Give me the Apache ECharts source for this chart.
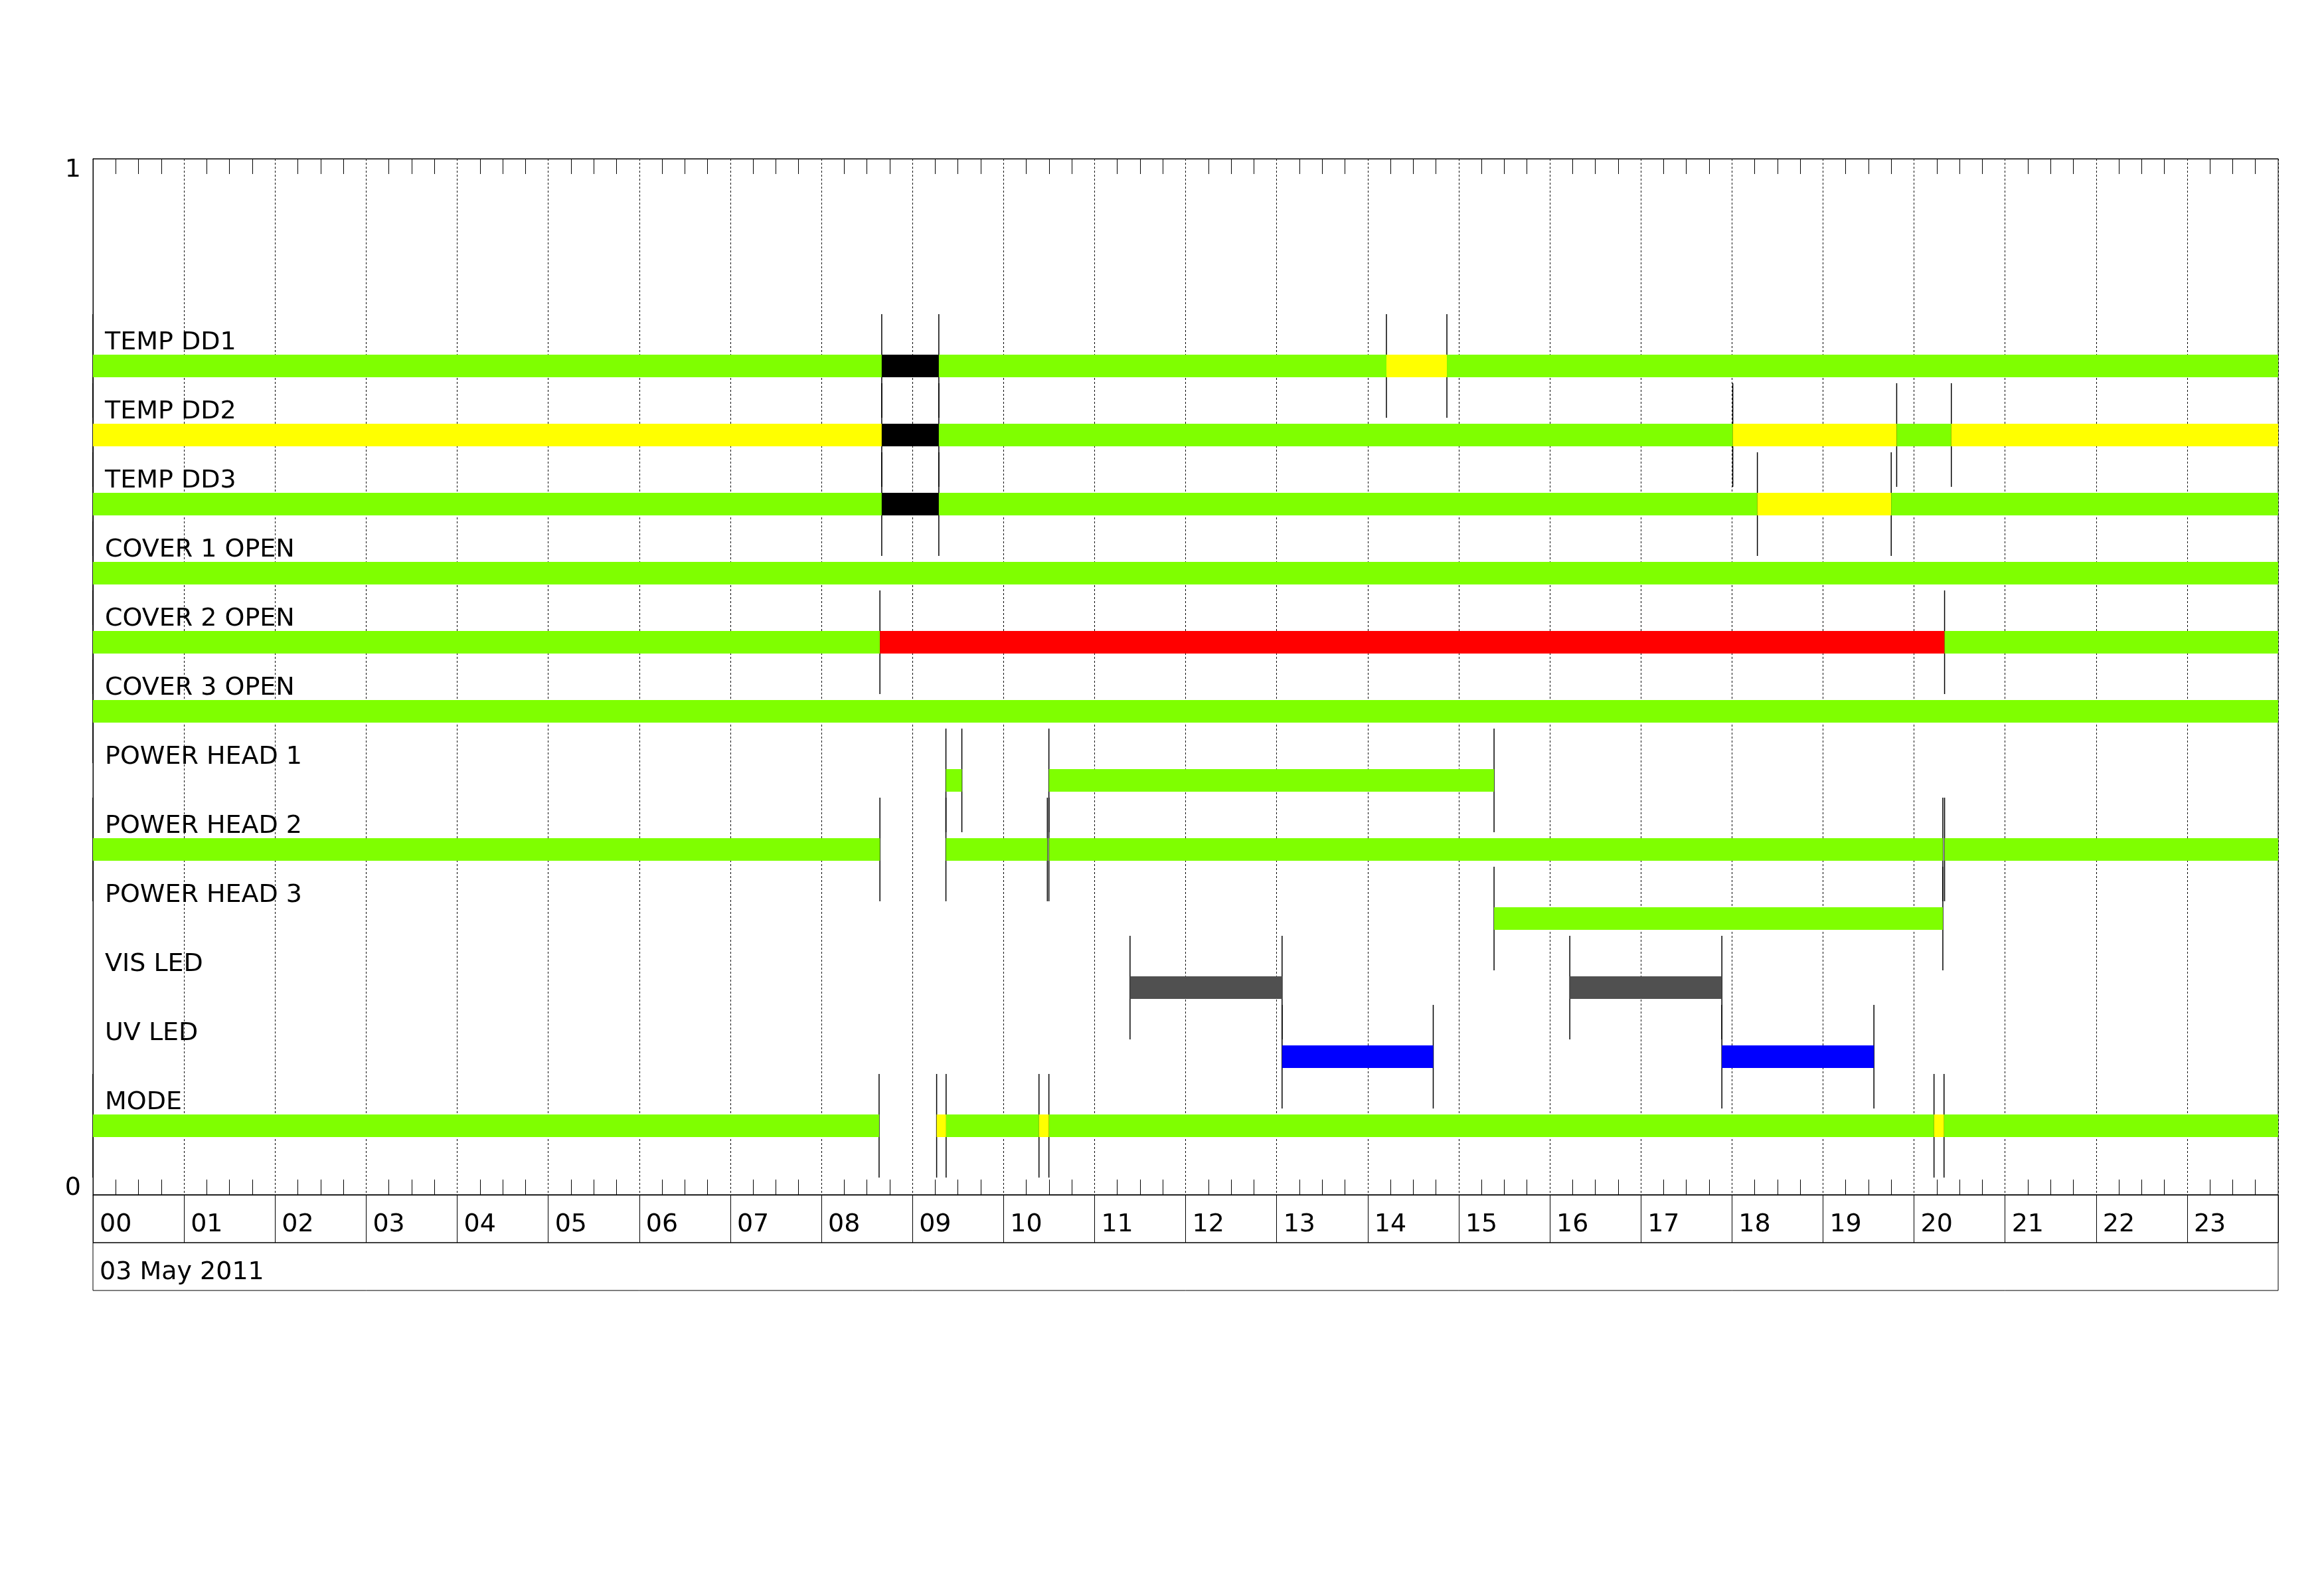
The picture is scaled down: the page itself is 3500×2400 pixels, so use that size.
<!DOCTYPE html>
<html><head><meta charset="utf-8">
<script src="https://cdn.jsdelivr.net/npm/echarts@6/dist/echarts.min.js"></script>
<style>html,body{margin:0;padding:0;background:#fff}#c{width:3500px;height:2400px}</style>
</head><body><div id="c"></div>
<script>
// ---- data ----
const dateLabel = '03 May 2011';
const hourLabels = ['00','01','02','03','04','05','06','07','08','09','10','11','12','13','14','15','16','17','18','19','20','21','22','23'];
const yTickLabels = ['0', '1'];
const rowNames = ['TEMP DD1','TEMP DD2','TEMP DD3','COVER 1 OPEN','COVER 2 OPEN','COVER 3 OPEN','POWER HEAD 1','POWER HEAD 2','POWER HEAD 3','VIS LED','UV LED','MODE'];
// segments: [start hour, end hour, state]
const tempDD1 = [[0,8.663,'ok'],[8.663,9.29,'none'],[9.29,14.206,'ok'],[14.206,14.87,'warn'],[14.87,24,'ok']];
const tempDD2 = [[0,8.663,'warn'],[8.663,9.29,'none'],[9.29,18.01,'ok'],[18.01,19.81,'warn'],[19.81,20.41,'ok'],[20.41,24,'warn']];
const tempDD3 = [[0,8.663,'ok'],[8.663,9.29,'none'],[9.29,18.28,'ok'],[18.28,19.75,'warn'],[19.75,24,'ok']];
const cover1 = [[0,24,'ok']];
const cover2 = [[0,8.643,'ok'],[8.643,20.336,'alarm'],[20.336,24,'ok']];
const cover3 = [[0,24,'ok']];
const powerHead1 = [[9.368,9.543,'ok'],[10.499,15.388,'ok']];
const powerHead2 = [[0,8.643,'ok'],[9.368,10.482,'ok'],[10.499,20.317,'ok'],[20.336,24,'ok']];
const powerHead3 = [[15.388,20.317,'ok']];
const visLed = [[11.39,13.06,'vis'],[16.22,17.89,'vis']];
const uvLed = [[13.06,14.72,'uv'],[17.89,19.56,'uv']];
const mode = [[0,8.634,'ok'],[9.266,9.37,'warn'],[9.37,10.39,'ok'],[10.39,10.499,'warn'],[10.499,20.22,'ok'],[20.22,20.33,'warn'],[20.33,24,'ok']];

const rowSegments = [tempDD1,tempDD2,tempDD3,cover1,cover2,cover3,powerHead1,powerHead2,powerHead3,visLed,uvLed,mode];

// ---- styles ----
const stateColors = {ok:'#7FFF00', warn:'#FFFF00', none:'#000000', alarm:'#FF0000', vis:'#505050', uv:'#0000FF'};
const FONT = 'DejaVu Sans';
const FS = 38;
const rowLevel = i => (rowNames.length - i) / 15;

const segItems = [];
const markerItems = [];
rowSegments.forEach((segs, i) => {
  const seen = new Set();
  segs.forEach(s => {
    segItems.push({start:s[0], end:s[1], row:i, state:s[2]});
    [s[0], s[1]].forEach(t => { if (t < 24 && !seen.has(t)) { seen.add(t); markerItems.push([t, i]); } });
  });
});

const chart = echarts.init(document.getElementById('c'), null, {renderer:'canvas'});
const axisBase = {type:'value', min:0, max:24, interval:1};
chart.setOption({
  animation:false,
  backgroundColor:'#fff',
  grid:[
    {left:140, right:69, top:239, height:1560, show:true, borderColor:'#000', borderWidth:1, outerBoundsMode:'none'},
    {left:140, right:69, top:1799, height:72, show:true, borderColor:'#000', borderWidth:1, outerBoundsMode:'none'},
    {left:140, right:69, top:1871, height:72, show:true, borderColor:'#000', borderWidth:1, outerBoundsMode:'none'}
  ],
  xAxis:[
    Object.assign({}, axisBase, {gridIndex:0, position:'bottom',
      axisLine:{show:true, lineStyle:{color:'#000', width:1}},
      axisTick:{show:false, inside:true},
      minorTick:{show:true, splitNumber:4, length:23, lineStyle:{color:'#000', width:1}},
      axisLabel:{show:true, margin:45, align:'left', verticalAlign:'middle', padding:[0,0,0,10],
        fontSize:FS, fontFamily:FONT, color:'#000', showMaxLabel:false, showMinLabel:true,
        formatter: v => hourLabels[Math.round(v)] || ''},
      splitLine:{show:true, lineStyle:{color:'#000', width:1, type:[3,3]}}
    }),
    Object.assign({}, axisBase, {gridIndex:0, position:'top',
      axisLine:{show:true, lineStyle:{color:'#000', width:1}},
      axisTick:{show:false, inside:true},
      minorTick:{show:true, splitNumber:4, length:23, lineStyle:{color:'#000', width:1}},
      axisLabel:{show:false}, splitLine:{show:false}
    }),
    Object.assign({}, axisBase, {gridIndex:1,
      axisLine:{show:false}, axisTick:{show:false}, axisLabel:{show:false},
      splitLine:{show:true, lineStyle:{color:'#000', width:1, type:'solid'}}
    }),
    Object.assign({}, axisBase, {gridIndex:2,
      axisLine:{show:false}, axisTick:{show:false}, axisLabel:{show:false}, splitLine:{show:false}
    })
  ],
  yAxis:[
    {gridIndex:0, type:'value', min:0, max:1, interval:1,
      axisLine:{show:true, lineStyle:{color:'#000', width:1}}, axisTick:{show:false},
      splitLine:{show:false},
      axisLabel:{show:true, margin:18, color:'#000', fontSize:FS, fontFamily:FONT,
        formatter: v => v >= 1 ? '{t|' + yTickLabels[1] + '}' : '{b|' + yTickLabels[0] + '}',
        rich:{t:{padding:[34,0,0,0], fontSize:FS, fontFamily:FONT, color:'#000'},
              b:{padding:[0,0,20,0], fontSize:FS, fontFamily:FONT, color:'#000'}}}
    },
    {gridIndex:1, type:'value', min:0, max:1, show:false},
    {gridIndex:2, type:'value', min:0, max:1, show:false}
  ],
  graphic:[
    {type:'text', x:150, y:1916, style:{text:dateLabel, fill:'#000', fontSize:FS, fontFamily:FONT, align:'left', verticalAlign:'middle'}}
  ],
  series:[
    {type:'custom', name:'markers', xAxisIndex:0, yAxisIndex:0, clip:false, z:2,
      data: markerItems,
      renderItem:(params, api) => {
        const t = api.value(0), i = api.value(1), y = rowLevel(i);
        const p1 = api.coord([t, y + 0.05]), p2 = api.coord([t, y - 0.05]);
        return {type:'line', shape:{x1:p1[0], y1:p1[1], x2:p2[0], y2:p2[1]}, style:{stroke:'#000', lineWidth:1.5}};
      }
    },
    {type:'custom', name:'bars', xAxisIndex:0, yAxisIndex:0, clip:false, z:3,
      data: segItems.map(s => [s.start, s.end, s.row]),
      renderItem:(params, api) => {
        const it = segItems[params.dataIndex];
        const y = rowLevel(it.row);
        const a = api.coord([it.start, y]), b = api.coord([it.end, y]);
        return {type:'rect', shape:{x:a[0], y:a[1]-17, width:b[0]-a[0], height:34}, style:{fill:stateColors[it.state]}};
      }
    },
    {type:'custom', name:'labels', xAxisIndex:0, yAxisIndex:0, clip:false, z:4,
      data: rowNames.map((n, i) => [0, i]),
      renderItem:(params, api) => {
        const i = params.dataIndex;
        const p = api.coord([0, rowLevel(i)]);
        return {type:'text', x:p[0]+18, y:p[1]-35, style:{text:rowNames[i], fill:'#000', fontSize:FS, fontFamily:FONT, align:'left', verticalAlign:'middle'}};
      }
    }
  ]
});
</script></body></html>
